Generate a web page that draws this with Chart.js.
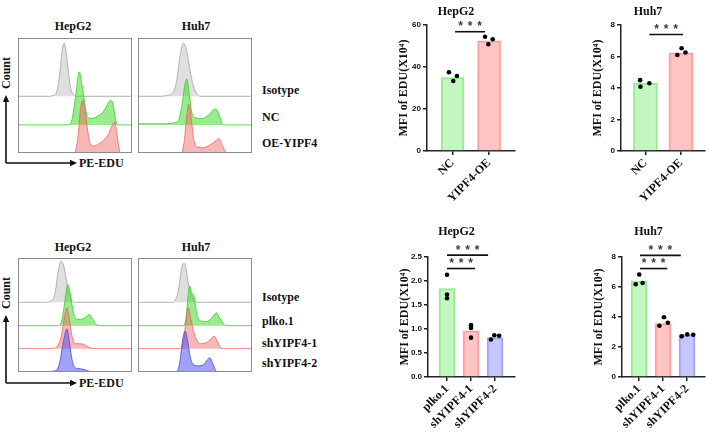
<!DOCTYPE html>
<html><head><meta charset="utf-8">
<script src="https://cdn.jsdelivr.net/npm/chart.js@4.4.1/dist/chart.umd.min.js"></script>
<style>
html,body{margin:0;padding:0;background:#fff;width:708px;height:435px;overflow:hidden;position:relative;}
.t{position:absolute;font:bold 12px 'Liberation Serif','Times New Roman',serif;color:#111;line-height:12px;white-space:nowrap;}
.ct{text-align:center;width:80px;}
</style></head><body>
<div class="t ct" style="left:33px;top:20px">HepG2</div>
<div class="t ct" style="left:156px;top:20px">Huh7</div>
<div class="t ct" style="left:33px;top:241px">HepG2</div>
<div class="t ct" style="left:156px;top:241px">Huh7</div>
<div class="t" style="left:-14px;top:67px;width:40px;text-align:center;transform:rotate(-90deg)">Count</div>
<div class="t" style="left:-14px;top:287px;width:40px;text-align:center;transform:rotate(-90deg)">Count</div>
<div class="t" style="left:79px;top:157px">PE-EDU</div>
<div class="t" style="left:79px;top:377px">PE-EDU</div>
<div class="t" style="left:262px;top:84px">Isotype</div>
<div class="t" style="left:262px;top:111px">NC</div>
<div class="t" style="left:262px;top:137px">OE-YIPF4</div>
<div class="t" style="left:262px;top:291px">Isotype</div>
<div class="t" style="left:262px;top:315px">plko.1</div>
<div class="t" style="left:262px;top:337px">shYIPF4-1</div>
<div class="t" style="left:262px;top:357px">shYIPF4-2</div>
<svg width="708" height="435" style="position:absolute;left:0;top:0" xmlns="http://www.w3.org/2000/svg">
 <g stroke="#111" stroke-width="1.6" fill="none">
  <path d="M6,163 L6,100 M6,163 L72,163"/>
  <path d="M6,383 L6,320 M6,383 L72,383"/>
 </g>
 <g fill="#111">
  <polygon points="6,95 2.8,102 9.2,102"/>
  <polygon points="77,163 70,159.8 70,166.2"/>
  <polygon points="6,315 2.8,322 9.2,322"/>
  <polygon points="77,383 70,379.8 70,386.2"/>
 </g>
</svg>
<script>
// ---------------- DATA ----------------
// Flow cytometry histograms: [PE-EDU intensity (0-100 of axis), % of max]
const topHepG2Isotype = [[0,0],[28,0],[30,1],[32.7,3],[35,18],[37,50],[39,90],[40.6,100],[42,88],[43.9,52],[45.9,18],[48,5],[50,1],[52,0],[100,0]];
const topHepG2NC = [[0,0],[44,0],[46,3],[47.4,10],[50.3,50],[52.6,90],[53.8,100],[55.6,82],[57.6,55],[59.6,26],[61.5,14],[64,12],[67.8,14],[71,18],[73.7,22],[77.2,33],[80,44],[81.9,46],[83.5,38],[85.4,12],[86.8,2],[88,0],[100,0]];
const topHepG2OE = [[0,0],[49,0],[50.3,3],[52.6,30],[54.7,80],[57,100],[59,78],[61.4,38],[63.5,17],[66.4,13],[70.8,17],[75,24],[79.5,36],[82.5,52],[84.8,58],[86.8,35],[88.9,6],[90,0],[100,0]];
const topHuh7Isotype = [[0,0],[20,0],[24,1],[28,3],[31,8],[34,30],[37,78],[39.8,100],[42.7,86],[45.6,50],[48.5,20],[51.5,5],[54.4,0],[100,0]];
const topHuh7NC = [[0,7],[0.8,3],[2,2],[20,2],[30,3],[33,5],[35.5,8],[38.4,35],[40.7,70],[42.7,87],[44.8,60],[47,25],[50,14],[55.8,12],[61.6,18],[66,28],[68.3,30],[71,20],[73.3,5],[75.6,0],[100,0]];
const topHuh7OE = [[0,0],[38,0],[40.7,25],[42.7,70],[44.5,92],[46.5,70],[48.5,30],[51.5,12],[57.3,10],[63,15],[67.4,22],[71,27],[73.8,15],[76.7,2],[79,0],[100,0]];
const botHepG2Isotype = [[0,0],[24,0],[29.8,5],[32.7,25],[35,70],[37.7,100],[40,90],[42.1,60],[44.4,25],[46.8,8],[49.7,0],[100,0]];
const botHepG2Plko = [[0,0],[35.7,0],[38.6,15],[40.9,55],[43,95],[43.9,100],[46,75],[48,40],[50.3,18],[54.7,15],[59,20],[62.6,27],[65.5,15],[68.4,3],[70.8,0],[100,0]];
const botHepG2Sh1 = [[0,0],[29.8,0],[34.2,5],[38,30],[40.9,80],[43,100],[45,75],[47.4,30],[50.3,12],[54.7,12],[57.6,10],[60.5,6],[63.5,2],[66.4,0],[100,0]];
const botHepG2Sh2 = [[0,1],[24,1],[32.7,3],[36.3,20],[39.2,65],[41.5,95],[43,105],[45,75],[47.4,30],[50.3,10],[54.7,8],[59,5],[63.5,1],[66.4,0],[100,0]];
const botHuh7Isotype = [[0,0],[29.7,0],[32.6,5],[35.5,30],[38.4,85],[40.4,95],[42.2,80],[44.2,45],[46.5,20],[49.4,5],[51.5,0],[100,0]];
const botHuh7Plko = [[0,0],[39.8,0],[42.2,20],[44.2,80],[45.3,97],[47.1,80],[49.1,72],[51.5,30],[54.4,12],[60.2,10],[64.5,18],[67.4,28],[68.9,31],[71.8,18],[74.7,5],[77,0],[100,0]];
const botHuh7Sh1 = [[0,0],[37,0],[39.8,15],[42.2,70],[43.9,100],[46.2,75],[48.5,45],[51.5,20],[55.8,12],[60.2,15],[64.5,25],[66.6,30],[68.9,22],[71.8,5],[73.8,0],[100,0]];
const botHuh7Sh2 = [[0,0],[34,0],[37,30],[39.2,80],[41.3,100],[43.3,80],[45.6,40],[48.5,18],[52.9,15],[57.3,18],[61,30],[63,35],[66,18],[68.3,3],[70.3,0],[100,0]];

// Bar charts: MFI of EDU (x10^4)
const oeCategories = ['NC', 'YIPF4-OE'];
const kdCategories = ['plko.1', 'shYIPF4-1', 'shYIPF4-2'];
const hepg2OeMeans = [35.0, 52.5];
const hepg2OeReps = [[37.5, 33.3, 35.7], [54.4, 50.8, 53.2]];
const huh7OeMeans = [4.30, 6.24];
const huh7OeReps = [[4.50, 4.08, 4.30], [6.52, 6.10, 6.25]];
const hepg2KdMeans = [1.84, 0.96, 0.82];
const hepg2KdReps = [[2.13, 1.72, 1.64], [1.08, 1.02, 0.82], [0.78, 0.87, 0.86]];
const huh7KdMeans = [6.40, 3.56, 2.83];
const huh7KdReps = [[6.83, 6.18, 6.27], [3.98, 3.42, 3.62], [2.71, 2.84, 2.82]];
const hepg2OeTicks = ['0', '20', '40', '60'];
const huh7OeTicks = ['0', '2', '4', '6', '8'];
const hepg2KdTicks = ['0.0', '0.5', '1.0', '1.5', '2.0', '2.5'];
const huh7KdTicks = ['0', '2', '4', '6', '8'];
// significance brackets: [from (category units), to, height (value units)]
const hepg2OeSig = [[0.07, 0.89, 56.8]];
const huh7OeSig = [[0.11, 1.06, 7.4]];
const hepg2KdSig = [[0, 1.71, 2.54], [0, 1.17, 2.26]];
const huh7KdSig = [[0.04, 1.74, 8.11], [0.04, 1.18, 7.23]];

// ---------------- STYLE / LAYOUT ----------------
const SERIF = "'Liberation Serif','Times New Roman',serif";
const SANS = "'Liberation Sans',Arial,sans-serif";
const HIST = {
  gray: ['rgba(185,185,185,0.45)', 'rgba(170,170,170,0.9)'],
  green: ['rgba(50,215,30,0.5)', 'rgba(60,210,40,0.85)'],
  red: ['rgba(240,95,95,0.45)', 'rgba(235,100,100,0.8)'],
  blue: ['rgba(70,70,235,0.5)', 'rgba(80,80,220,0.85)']
};
const BAR_FILL = ['#c3f7c0', '#ffc4c4', '#c6c6ff'];
const BAR_EDGE = ['#96ec90', '#ff9f9f', '#a2a2ff'];

function mkCanvas(left, top, w, h) {
  const c = document.createElement('canvas');
  c.width = w; c.height = h;
  c.style.cssText = `position:absolute;left:${left}px;top:${top}px;width:${w}px;height:${h}px`;
  document.body.appendChild(c);
  return c;
}

const boxPlugin = {
  id: 'box',
  afterDraw(chart) {
    const a = chart.chartArea, ctx = chart.ctx;
    ctx.save();
    ctx.strokeStyle = '#8c8c8c'; ctx.lineWidth = 1;
    ctx.strokeRect(a.left + 0.5, a.top + 0.5, a.right - a.left - 1, a.bottom - a.top - 1);
    ctx.restore();
  }
};

function histChart(left, top, w, h, rows, yMax, offsets) {
  const n = rows.length;
  new Chart(mkCanvas(left, top, w, h), {
    type: 'line',
    data: {
      datasets: rows.map((r, k) => ({
        data: r[0].map(p => ({ x: p[0], y: p[1] + offsets[k] })),
        fill: { value: offsets[k] },
        backgroundColor: HIST[r[1]][0],
        borderColor: HIST[r[1]][1],
        borderWidth: 1,
        pointRadius: 0,
        cubicInterpolationMode: 'monotone',
        order: n - k
      }))
    },
    options: {
      responsive: false, animation: false, events: [],
      layout: { padding: 0 },
      plugins: { legend: { display: false }, tooltip: { enabled: false } },
      scales: {
        x: { type: 'linear', min: 0, max: 100, display: false },
        y: { type: 'linear', min: 0, max: yMax, display: false }
      }
    },
    plugins: [boxPlugin]
  });
}

histChart(18, 38, 114, 115, [[topHepG2Isotype, 'gray'], [topHepG2NC, 'green'], [topHepG2OE, 'red']], 217, [107, 53, 0]);
histChart(138, 38, 114, 115, [[topHuh7Isotype, 'gray'], [topHuh7NC, 'green'], [topHuh7OE, 'red']], 217, [107, 53, 0]);
histChart(18, 258, 114, 114, [[botHepG2Isotype, 'gray'], [botHepG2Plko, 'green'], [botHepG2Sh1, 'red'], [botHepG2Sh2, 'blue']], 278, [170, 113, 57, 0]);
histChart(138, 258, 114, 114, [[botHuh7Isotype, 'gray'], [botHuh7Plko, 'green'], [botHuh7Sh1, 'red'], [botHuh7Sh2, 'blue']], 278, [170, 113, 57, 0]);

const sigPlugin = {
  id: 'sig',
  afterDraw(chart, args, opts) {
    const ctx = chart.ctx, xs = chart.scales.x, ys = chart.scales.y;
    ctx.save();
    (opts.lines || []).forEach(s => {
      const x1 = xs.getPixelForValue(s[0]), x2 = xs.getPixelForValue(s[1]), y = ys.getPixelForValue(s[2]);
      ctx.strokeStyle = '#111'; ctx.lineWidth = 1.6;
      ctx.beginPath(); ctx.moveTo(x1, y); ctx.lineTo(x2, y); ctx.stroke();
      ctx.fillStyle = '#333a55';
      ctx.font = 'bold 12px ' + SANS;
      ctx.textAlign = 'center'; ctx.textBaseline = 'alphabetic';
      const cx = (x1 + x2) / 2;
      [-9.5, 0, 9.5].forEach(dx => ctx.fillText('*', cx + dx, y - 1.5));
    });
    ctx.restore();
  }
};

function barChart(g, d) {
  const axisStyle = {
    grid: { display: true, offset: false, drawOnChartArea: false, drawTicks: true, tickLength: 4, color: '#222', lineWidth: 1.5 },
    border: { display: true, color: '#222', width: 1.5 }
  };
  const yVals = d.ticks.map(Number);
  const scatter = [];
  d.reps.forEach((grp, i) => grp.forEach((v, j) => scatter.push({ x: i + g.jitter[i][j], y: v })));
  new Chart(mkCanvas(g.left, g.top, g.w, g.h), {
    type: 'bar',
    data: {
      datasets: [
        { type: 'scatter', data: scatter, pointRadius: 2.3, pointBackgroundColor: '#000', pointBorderWidth: 0, showLine: false, order: 0 },
        { type: 'bar', data: d.means.map((v, i) => ({ x: i, y: v })), backgroundColor: BAR_FILL.slice(0, d.cats.length),
          borderColor: BAR_EDGE.slice(0, d.cats.length), borderWidth: 2, barThickness: g.bw, order: 1 }
      ]
    },
    options: {
      responsive: false, animation: false, events: [],
      layout: { padding: { left: 6, right: g.padRight, top: 0, bottom: 0 } },
      plugins: {
        legend: { display: false }, tooltip: { enabled: false },
        title: { display: true, text: d.title, color: '#111', font: { family: SERIF, weight: 'bold', size: 12 }, padding: { top: g.tTop, bottom: g.tBottom } },
        sig: { lines: d.sig }
      },
      scales: {
        x: Object.assign({
          type: 'linear', min: g.xMin, max: g.xMax, offset: false,
          afterBuildTicks: a => { a.ticks = d.cats.map((_, i) => ({ value: i })); },
          afterFit: s => { s.height = 55; },
          ticks: { autoSkip: false, minRotation: 45, maxRotation: 45, padding: 1, color: '#111',
                   font: { family: SERIF, weight: 'bold', size: 12 }, callback: (v, i) => d.cats[i] }
        }, axisStyle),
        y: Object.assign({
          type: 'linear', min: 0, max: yVals[yVals.length - 1],
          afterBuildTicks: a => { a.ticks = yVals.map(v => ({ value: v })); },
          afterFit: s => { s.width = 30; },
          ticks: { padding: 2, color: '#111', font: { family: SANS, weight: 'bold', size: 8 }, callback: (v, i) => d.ticks[i] },
          title: { display: true, text: 'MFI of EDU(X10\u2074)', color: '#111', padding: 0, font: { family: SERIF, weight: 'bold', size: 12 } }
        }, axisStyle)
      }
    },
    plugins: [sigPlugin]
  });
}

barChart({ left: 391, top: 0, w: 171, h: 206, padRight: 47, tTop: 4.5, tBottom: 6.1, xMin: -0.70, xMax: 1.71, bw: 23,
           jitter: [[-0.1, 0.02, 0.12], [-0.11, -0.02, 0.1]] },
         { title: 'HepG2', cats: oeCategories, means: hepg2OeMeans, reps: hepg2OeReps, ticks: hepg2OeTicks, sig: hepg2OeSig });
barChart({ left: 585, top: 0, w: 160, h: 206, padRight: 40, tTop: 4.5, tBottom: 6.1, xMin: -0.69, xMax: 1.68, bw: 24,
           jitter: [[-0.15, -0.14, 0.11], [0.02, -0.1, 0.13]] },
         { title: 'Huh7', cats: oeCategories, means: huh7OeMeans, reps: huh7OeReps, ticks: huh7OeTicks, sig: huh7OeSig });
barChart({ left: 392, top: 215, w: 169, h: 217, padRight: 46, tTop: 9.8, tBottom: 17.8, xMin: -0.79, xMax: 2.83, bw: 16,
           jitter: [[0, 0, 0], [0, 0, 0], [-0.17, -0.03, 0.17]] },
         { title: 'HepG2', cats: kdCategories, means: hepg2KdMeans, reps: hepg2KdReps, ticks: hepg2KdTicks, sig: hepg2KdSig });
barChart({ left: 586, top: 215, w: 158, h: 217, padRight: 39, tTop: 9.8, tBottom: 17.8, xMin: -0.71, xMax: 2.75, bw: 16,
           jitter: [[0.01, -0.14, 0.15], [0.04, -0.15, 0.2], [-0.22, 0.01, 0.26]] },
         { title: 'Huh7', cats: kdCategories, means: huh7KdMeans, reps: huh7KdReps, ticks: huh7KdTicks, sig: huh7KdSig });
</script>
</body></html>
